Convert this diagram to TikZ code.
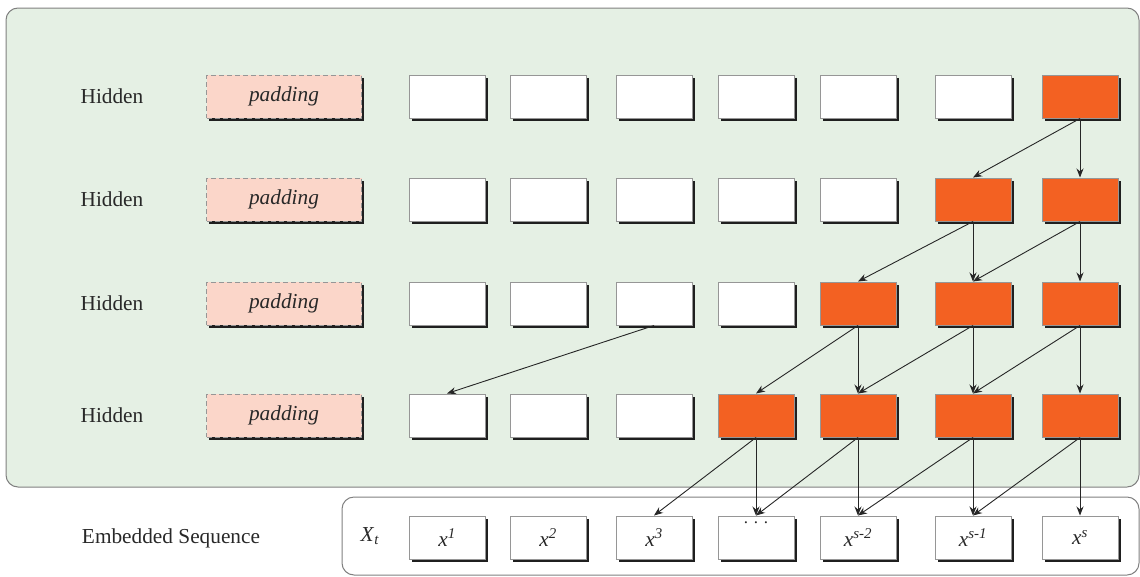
\documentclass[tikz,border=0pt]{standalone}
\usepackage{fontspec}
\setmainfont{Liberation Serif}
\usetikzlibrary{shadows,arrows.meta}

\definecolor{panelgreen}{RGB}{229,240,228}
\definecolor{padfill}{RGB}{251,214,201}
\definecolor{hot}{RGB}{243,97,34}
\definecolor{rim}{RGB}{150,150,150}
\definecolor{ink}{RGB}{40,40,40}

\begin{document}
\begin{tikzpicture}[x=1pt,y=-1pt,
  txt/.style={font=\fontsize{21.3}{25}\selectfont, text=ink},
  cell/.style={draw=rim, line width=1pt, minimum width=76pt, minimum height=43pt,
    inner sep=0pt, txt,
    drop shadow={shadow xshift=2.5pt, shadow yshift=-2.5pt, fill=black!88, opacity=1}},
  blank/.style={cell, fill=white},
  active/.style={cell, fill=hot},
  pad/.style={cell, fill=padfill, dashed, dash pattern=on 5pt off 3pt,
    minimum width=155pt, font=\fontsize{21.3}{25}\selectfont\itshape},
  link/.style={-{Stealth[length=9pt,width=7pt]}, line width=0.9pt, draw=black!85}
]
\useasboundingbox (0,0) rectangle (1140,576);

% background panels
\draw[rounded corners=12pt, fill=panelgreen, draw=gray, line width=1pt] (6,8) rectangle (1139,487);
\draw[rounded corners=12pt, fill=white, draw=gray, line width=1pt] (342,497) rectangle (1139,575);

% row labels
\foreach \r/\y in {1/96.5,2/199.5,3/303.5,4/415.5}
  \node[txt] (lab\r) at (112,\y) {Hidden};
\node[txt] (labE) at (171,538) {Embedded Sequence};

% padding cells
\foreach \r/\y in {1/96.5,2/199.5,3/303.5,4/415.5}
  \node[pad] (h\r0) at (284,\y) {padding};

% hidden cells
\foreach \c/\x in {1/447,2/548,3/654,4/756,5/858,6/973,7/1080}{
  \ifnum\c<7 \node[blank] (h1\c) at (\x,96.5) {}; \else \node[active] (h1\c) at (\x,96.5) {}; \fi
  \ifnum\c<6 \node[blank] (h2\c) at (\x,199.5) {}; \else \node[active] (h2\c) at (\x,199.5) {}; \fi
  \ifnum\c<5 \node[blank] (h3\c) at (\x,303.5) {}; \else \node[active] (h3\c) at (\x,303.5) {}; \fi
  \ifnum\c<4 \node[blank] (h4\c) at (\x,415.5) {}; \else \node[active] (h4\c) at (\x,415.5) {}; \fi
}

% embedded sequence
\node[txt] (xt) at (370,536) {\textit{X}\textsubscript{\textit{t}}};
\node[blank] (e1) at (447,537.5) {\textit{x}\textsuperscript{\textit{1}}};
\node[blank] (e2) at (548,537.5) {\textit{x}\textsuperscript{\textit{2}}};
\node[blank] (e3) at (654,537.5) {\textit{x}\textsuperscript{\textit{3}}};
\node[blank] (e4) at (756,537.5) {};
\node[font=\fontsize{17}{19}\selectfont, text=ink, inner sep=0pt] (dots) at (756,523) {. . .};
\node[blank] (e5) at (858,537.5) {\textit{x}\textsuperscript{\textit{s-2}}};
\node[blank] (e6) at (973,537.5) {\textit{x}\textsuperscript{\textit{s-1}}};
\node[blank] (e7) at (1080,537.5) {\textit{x}\textsuperscript{\textit{s}}};

% dilated connections
\draw[link] (h17.south) -- (h26.north);
\draw[link] (h17.south) -- (h27.north);

\draw[link] (h26.south) -- (h35.north);
\draw[link] (h26.south) -- (h36.north);
\draw[link] (h27.south) -- (h36.north);
\draw[link] (h27.south) -- (h37.north);

\draw[link] (h33.south) -- (h41.north);
\draw[link] (h35.south) -- (h44.north);
\draw[link] (h35.south) -- (h45.north);
\draw[link] (h36.south) -- (h45.north);
\draw[link] (h36.south) -- (h46.north);
\draw[link] (h37.south) -- (h46.north);
\draw[link] (h37.south) -- (h47.north);

\draw[link] (h44.south) -- (e3.north);
\draw[link] (h44.south) -- (e4.north);
\draw[link] (h45.south) -- (e4.north);
\draw[link] (h45.south) -- (e5.north);
\draw[link] (h46.south) -- (e5.north);
\draw[link] (h46.south) -- (e6.north);
\draw[link] (h47.south) -- (e6.north);
\draw[link] (h47.south) -- (e7.north);
\end{tikzpicture}
\end{document}
